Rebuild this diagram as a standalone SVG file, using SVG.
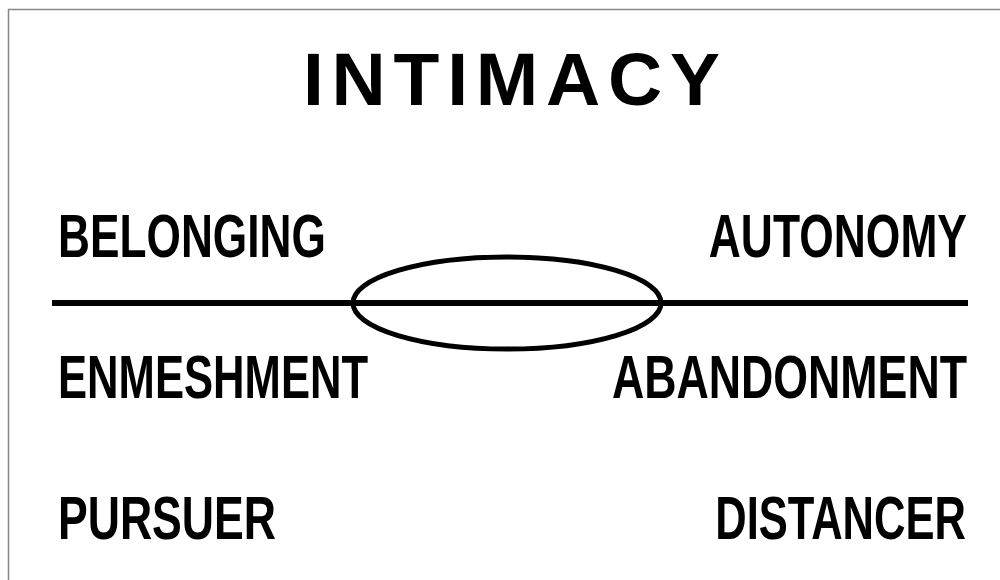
<svg xmlns="http://www.w3.org/2000/svg" width="1000" height="580" viewBox="0 0 1000 580">
<style>
.t{font-family:"Liberation Sans",Arial,sans-serif;font-weight:bold;fill:#000}
.lbl{font-size:61px}
.r{text-anchor:end}
.ttl{font-size:75px}
.ln{stroke:#000;fill:none}
</style>
<rect x="0" y="0" width="1000" height="580" fill="#fff"/>
<rect x="8.5" y="9.5" width="1100" height="700" fill="none" stroke="#888" stroke-width="1.5"/>
<g id="title"><text class="t ttl" x="303" y="105" textLength="417" lengthAdjust="spacing">INTIMACY</text></g>
<g id="connectors">
<line class="ln" x1="52" y1="303" x2="968" y2="303" stroke-width="6"/>
</g>
<g id="ellipse"><ellipse class="ln" cx="507" cy="303" rx="154" ry="46" stroke-width="5"/></g>
<g id="belonging"><text class="t lbl" transform="translate(58,257) scale(0.7255,1)">BELONGING</text></g>
<g id="autonomy"><text class="t lbl r" transform="translate(967,257) scale(0.728,1)">AUTONOMY</text></g>
<g id="enmeshment"><text class="t lbl" transform="translate(58,398) scale(0.715,1)">ENMESHMENT</text></g>
<g id="abandonment"><text class="t lbl r" transform="translate(967,398) scale(0.733,1)">ABANDONMENT</text></g>
<g id="pursuer"><text class="t lbl" transform="translate(58,539) scale(0.731,1)">PURSUER</text></g>
<g id="distancer"><text class="t lbl r" transform="translate(966,539) scale(0.714,1)">DISTANCER</text></g>
</svg>
